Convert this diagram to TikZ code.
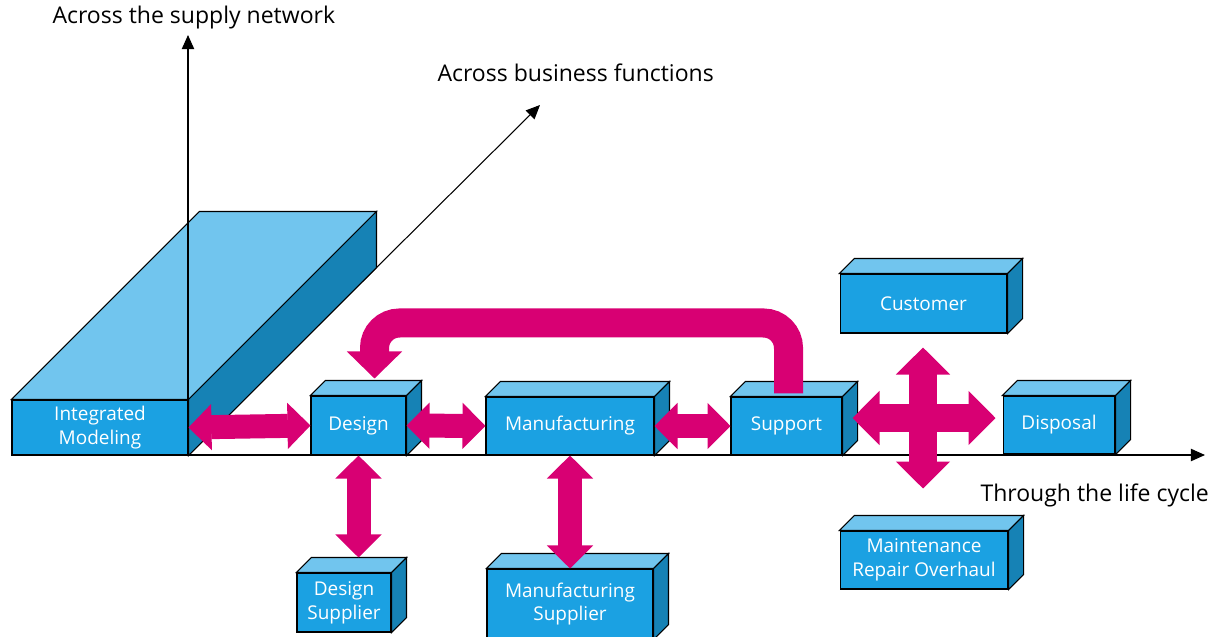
\documentclass[tikz,border=0pt]{standalone}
\usepackage{fontspec}
\setmainfont{Open Sans}
\usetikzlibrary{arrows.meta}

\definecolor{boxfront}{HTML}{1BA1E2}
\definecolor{boxtop}{HTML}{71C5EE}
\definecolor{boxside}{HTML}{1682B5}
\definecolor{flow}{HTML}{D80073}

% top and side face of a box node, #2 = depth
\newcommand{\faces}[2]{%
  \filldraw[fill=boxtop] (#1.north west) -- ++(#2,-#2) -- ([shift={(#2,-#2)}]#1.north east) -- (#1.north east) -- cycle;
  \filldraw[fill=boxside] (#1.north east) -- ++(#2,-#2) -- ([shift={(#2,-#2)}]#1.south east) -- (#1.south east) -- cycle;}

\begin{document}
\begin{tikzpicture}[x=0.02cm, y=-0.02cm, line width=0.6pt]
      \useasboundingbox (0,0) rectangle (1216,636);
      \coordinate (o) at (188,455);
      \coordinate (net) at (188,35);
      \coordinate (fun) at (540,105);
      \coordinate (life) at (1205,455);
      \draw[-{Triangle[length=8pt,width=7pt]}] (o) -- (fun);
      \draw[-{Triangle[length=8pt,width=7pt]}] (o) -- (life);
      \begin{scope}[every node/.style={draw,fill=boxfront,text=white,inner sep=0pt,align=center,
          font=\fontsize{10.8}{13.5}\selectfont}]
        \node[minimum width=3.52cm, minimum height=1.1cm] (im) at (100,427.5) {Integrated\\Modeling};
        \faces{im}{188}
        \draw[-{Triangle[length=8pt,width=7pt]}] (o) -- (net);
        \node[minimum width=1.9cm, minimum height=1.18cm] (des) at (358.5,425.5) {Design};
        \node[minimum width=3.36cm, minimum height=1.16cm] (man) at (570,426) {Manufacturing};
        \node[minimum width=2.22cm, minimum height=1.16cm] (sup) at (786.5,426) {Support};
        \node[minimum width=3.34cm, minimum height=1.18cm] (cus) at (923.5,303.5) {Customer};
        \node[minimum width=2.24cm, minimum height=1.16cm] (dis) at (1059,425) {Disposal};
        \node[minimum width=3.36cm, minimum height=1.16cm] (mro) at (924,560) {Maintenance\\Repair Overhaul};
        \node[minimum width=1.88cm, minimum height=1.18cm] (dsup) at (344,602.5) {Design\\Supplier};
        \node[minimum width=3.32cm, minimum height=1.4cm] (msup) at (570,604) {Manufacturing\\Supplier};
        \foreach \b in {des,man,sup,cus,dis,mro,dsup,msup} {\faces{\b}{15}}
      \end{scope}
      \begin{scope}[every path/.style={draw=flow,line width=0.48cm},
          >={Triangle[length=0.46cm,width=0.92cm,line width=0.8pt]}]
        \path[<->] (im.east) -- (des.west);
        \path[<->] (des.east) -- (man.west);
        \path[<->] (man.east) -- (sup.west);
        \path[<->, shorten >=0.3cm] (des.south) -- (des.south |- dsup.north);
        \path[<->] (man.south) -- (msup.north);
        % four-way arrow
        \coordinate (hub) at (923,418);
        \path[<->, line width=0.56cm, >={Triangle[length=0.54cm,width=1.08cm,line width=0.8pt]},
          shorten <=0.2cm, shorten >=0.14cm] (hub -| sup.east) -- (hub -| dis.west);
        \path[<->, line width=0.56cm, >={Triangle[length=0.54cm,width=1.08cm,line width=0.8pt]},
          shorten <=0.28cm, shorten >=0.84cm] (hub |- cus.south) -- (hub |- mro.north);
        % feedback loop
        \path[->, line width=0.58cm, rounded corners=0.5cm,
          >={Triangle[length=0.54cm,width=1.1cm,line width=0.8pt]}]
          ([shift={(2,-3)}]sup.north) -- ++(0,-70.5) -| ([shift={(16,-17)}]des.north);
      \end{scope}
      \begin{scope}[every node/.style={anchor=west,inner sep=0pt,font=\fontsize{13.1}{15}\selectfont}]
        \node (lnet) at (52,18) {Across the supply network};
        \node (lfun) at (437,73) {Across business functions};
        \node (llife) at (980,495) {Through the life cycle};
      \end{scope}
    \end{tikzpicture}
\end{document}
